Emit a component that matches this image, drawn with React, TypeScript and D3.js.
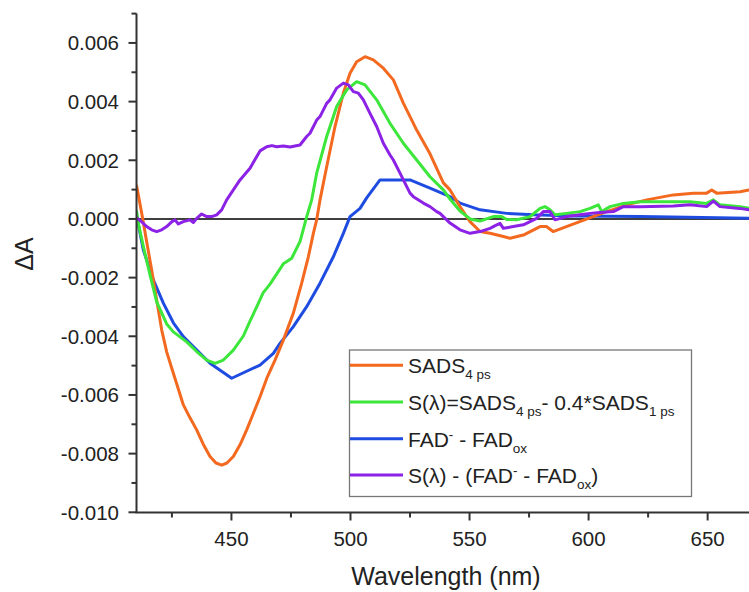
import React from "react";
import * as d3 from "d3";

// ---------- data ----------
const sadsWl = [410.2, 412.3, 414.4, 416.5, 418.6, 420.7, 422.8, 424.9, 427.0, 429.8, 432.6, 435.4, 438.1, 441.0, 443.5, 445.9, 448.1, 450.8, 453.6, 456.4, 459.1, 462.0, 464.9, 468.3, 471.8, 476.0, 479.5, 482.3, 484.4, 485.8, 487.2, 490.0, 493.5, 497.0, 499.8, 502.6, 506.1, 509.6, 513.8, 518.0, 522.2, 527.8, 533.4, 539.0, 541.8, 546.0, 550.2, 554.4, 558.6, 564.2, 567.0, 572.6, 579.6, 582.3, 585.1, 590.7, 596.3, 601.9, 607.6, 616.0, 624.4, 635.6, 644.0, 649.6, 651.7, 653.8, 663.6, 667.4];
const sadsVal = [0.00112, 0.0002, -0.00078, -0.00174, -0.00276, -0.00378, -0.00453, -0.00508, -0.00562, -0.00634, -0.00678, -0.00719, -0.00767, -0.0081, -0.00832, -0.00839, -0.00832, -0.0081, -0.0077, -0.00719, -0.00665, -0.00606, -0.00542, -0.00481, -0.00413, -0.00321, -0.00219, -0.00129, -0.00049, -0.00003, 0.00065, 0.00178, 0.00315, 0.00429, 0.00497, 0.00536, 0.00553, 0.00542, 0.00514, 0.00474, 0.00395, 0.00303, 0.00222, 0.00123, 0.00099, 0.00042, -0.00009, -0.00043, -0.00049, -0.0006, -0.00066, -0.00055, -0.00026, -0.00026, -0.00043, -0.00026, -0.00009, 0.00008, 0.00025, 0.00048, 0.00065, 0.00082, 0.00088, 0.00088, 0.00099, 0.00088, 0.00093, 0.00099];

const sWl = [410.2, 410.9, 413.0, 415.8, 418.6, 422.8, 425.6, 428.4, 431.2, 435.4, 439.6, 443.1, 446.6, 450.8, 455.0, 457.8, 460.6, 463.3, 466.2, 471.8, 475.3, 478.8, 481.6, 483.7, 485.8, 490.0, 494.2, 498.4, 502.6, 506.1, 511.0, 516.6, 522.2, 527.8, 533.4, 539.0, 541.8, 546.0, 550.2, 554.4, 560.0, 563.5, 565.6, 569.8, 575.4, 579.6, 581.7, 583.8, 585.9, 590.8, 596.4, 600.6, 604.1, 605.5, 609.0, 614.6, 621.6, 635.6, 642.6, 649.6, 652.4, 655.2, 663.6, 667.4];
const sVal = [0.00025, -0.00015, -0.00094, -0.00191, -0.00283, -0.00358, -0.00385, -0.00402, -0.00419, -0.00452, -0.00481, -0.00492, -0.00481, -0.00447, -0.00399, -0.00348, -0.003, -0.00252, -0.00222, -0.00153, -0.00134, -0.00077, 0.00007, 0.00065, 0.00156, 0.00281, 0.00383, 0.0044, 0.00468, 0.00457, 0.00406, 0.00326, 0.00258, 0.00201, 0.00144, 0.00099, 0.00068, 0.00027, 0.0, -0.00007, 0.00008, 0.00008, -0.00002, -0.00003, 0.00008, 0.00036, 0.00042, 0.00031, 0.00014, 0.00019, 0.00025, 0.00036, 0.00048, 0.00025, 0.00042, 0.00053, 0.00059, 0.00059, 0.00059, 0.00053, 0.00065, 0.00048, 0.00042, 0.00036];

const fadWl = [410.2, 413.0, 417.2, 421.4, 425.6, 429.8, 434.0, 441.0, 450.1, 462.0, 467.6, 470.4, 476.0, 481.6, 487.2, 492.8, 497.0, 499.8, 504.0, 506.8, 512.4, 525.0, 533.4, 541.8, 546.0, 554.4, 565.6, 576.8, 593.6, 621.6, 667.4];
const fadVal = [0.0001, -0.00106, -0.00208, -0.00287, -0.00354, -0.00401, -0.00435, -0.00492, -0.00543, -0.00498, -0.00458, -0.00424, -0.00367, -0.00299, -0.00219, -0.00129, -0.00049, 0.00008, 0.00036, 0.00072, 0.00133, 0.00133, 0.00105, 0.00076, 0.00054, 0.00031, 0.00019, 0.00014, 0.0001, 0.00008, 0.00002];

const diffWl = [410.2, 412.3, 414.4, 416.5, 418.6, 420.7, 422.8, 424.9, 426.3, 427.7, 429.8, 432.6, 434.0, 435.4, 437.5, 439.6, 441.7, 443.8, 445.9, 448.0, 450.8, 453.6, 457.8, 462.0, 464.8, 467.0, 469.0, 471.8, 474.6, 478.8, 481.6, 483.0, 485.8, 487.2, 490.0, 491.4, 494.2, 497.0, 499.1, 501.2, 503.3, 505.4, 506.8, 508.2, 511.0, 513.8, 516.6, 518.0, 520.8, 522.2, 525.0, 526.4, 530.6, 533.4, 536.2, 537.6, 541.8, 546.0, 550.2, 554.4, 558.6, 561.4, 562.8, 564.2, 568.4, 572.6, 578.2, 581.0, 583.8, 585.9, 590.8, 596.4, 600.6, 604.8, 610.4, 614.6, 621.6, 635.6, 642.6, 649.6, 652.4, 655.2, 663.4, 667.4];
const diffVal = [0.00003, -0.0001, -0.00026, -0.00037, -0.00043, -0.00037, -0.00026, -0.0001, -0.00003, -0.00017, -0.00009, -0.00003, -0.00012, 0.00002, 0.00017, 0.00008, 0.00008, 0.00014, 0.00031, 0.00065, 0.00099, 0.00133, 0.00173, 0.00232, 0.00246, 0.0025, 0.00246, 0.00249, 0.00245, 0.00252, 0.00281, 0.00292, 0.00337, 0.00349, 0.00394, 0.00406, 0.00446, 0.00463, 0.00457, 0.00434, 0.00429, 0.00406, 0.00383, 0.0036, 0.00315, 0.00258, 0.00218, 0.00201, 0.00156, 0.00133, 0.00088, 0.00076, 0.00054, 0.00042, 0.00025, 0.00019, -0.00014, -0.00037, -0.00049, -0.00043, -0.00032, -0.0002, -0.00015, -0.00032, -0.00026, -0.0002, 0.00002, 0.00025, 0.00025, -0.00003, 0.00008, 0.00014, 0.00019, 0.00022, 0.00025, 0.00042, 0.00042, 0.00044, 0.00048, 0.00042, 0.00061, 0.00042, 0.00036, 0.00031];

const yMajorTicks = [-0.01, -0.008, -0.006, -0.004, -0.002, 0, 0.002, 0.004, 0.006];
const yMinorTicks = [-0.009, -0.007, -0.005, -0.003, -0.001, 0.001, 0.003, 0.005, 0.007];
const xMajorTicks = [450, 500, 550, 600, 650];
const xMinorTicks = [425, 475, 525, 575, 625];

const COLORS = { sads: "#f2691f", s: "#3de63a", fad: "#1f4ce0", diff: "#8c22e6" };

export default function App() {
  const W = 749, H = 592;
  const x = d3.scaleLinear().domain([410, 667.5]).range([136.2, 749.3]);
  const y = d3.scaleLinear().domain([-0.01, 0.007]).range([512.3, 13.6]);
  const line = d3.line<[number, number]>().x(d => x(d[0])).y(d => y(d[1]));
  const zip = (a: number[], b: number[]) => a.map((v, i) => [v, b[i]] as [number, number]);

  const series = [
    { key: "fad", d: zip(fadWl, fadVal), c: COLORS.fad },
    { key: "sads", d: zip(sadsWl, sadsVal), c: COLORS.sads },
    { key: "s", d: zip(sWl, sVal), c: COLORS.s },
    { key: "diff", d: zip(diffWl, diffVal), c: COLORS.diff },
  ];

  const axX = 136.5, axY = 512.5;
  const font = "'Liberation Sans', Arial, sans-serif";
  const lx = 408, base = [373.3, 410, 446.7, 483];
  const sub = 13.5;

  return (
    <svg width={W} height={H} style={{ position: "absolute", left: 0, top: 0, background: "#fff" }} fontFamily={font}>
      <rect x={0} y={0} width={W} height={H} fill="#fff" />
      <defs>
        <clipPath id="plot">
          <rect x={axX} y={10} width={W - axX} height={axY - 10} />
        </clipPath>
      </defs>
      {/* zero line */}
      <line x1={axX} x2={W} y1={y(0)} y2={y(0)} stroke="#000" strokeWidth={1.6} />
      <g clipPath="url(#plot)">
        {series.map(s => (
          <path key={s.key} d={line(s.d) || ""} fill="none" stroke={s.c} strokeWidth={3} strokeLinejoin="round" strokeLinecap="round" />
        ))}
      </g>
      {/* y axis */}
      <line x1={axX} x2={axX} y1={y(0.007)} y2={axY} stroke="#333" strokeWidth={2} />
      {yMajorTicks.map(t => (
        <g key={"ym" + t}>
          <line x1={axX - 8} x2={axX} y1={y(t)} y2={y(t)} stroke="#333" strokeWidth={2} />
          <text x={119} y={y(t)} textAnchor="end" dominantBaseline="central" fontSize={20.5} fill="#222">{t.toFixed(3)}</text>
        </g>
      ))}
      {yMinorTicks.map(t => (
        <line key={"yn" + t} x1={axX - 5} x2={axX} y1={y(t)} y2={y(t)} stroke="#333" strokeWidth={2} />
      ))}
      {/* x axis */}
      <line x1={axX - 1} x2={W} y1={axY} y2={axY} stroke="#333" strokeWidth={2} />
      {xMajorTicks.map(t => (
        <g key={"xm" + t}>
          <line x1={x(t)} x2={x(t)} y1={axY} y2={axY + 8} stroke="#333" strokeWidth={2} />
          <text x={x(t)} y={546} textAnchor="middle" fontSize={20.5} fill="#222">{t}</text>
        </g>
      ))}
      {xMinorTicks.map(t => (
        <line key={"xn" + t} x1={x(t)} x2={x(t)} y1={axY} y2={axY + 5} stroke="#333" strokeWidth={2} />
      ))}
      <text x={446} y={585} textAnchor="middle" fontSize={25} fill="#222">Wavelength (nm)</text>
      <text transform="translate(24,254) rotate(-90)" textAnchor="middle" dominantBaseline="central" fontSize={25} fill="#222">ΔA</text>
      {/* legend */}
      <rect x={349.5} y={350} width={342} height={146.5} fill="#fff" stroke="#777" strokeWidth={1.3} />
      {[COLORS.sads, COLORS.s, COLORS.fad, COLORS.diff].map((c, i) => (
        <line key={"lg" + i} x1={350} x2={403} y1={base[i] - 8} y2={base[i] - 8} stroke={c} strokeWidth={3} />
      ))}
      <g fontSize={21} fill="#222">
        <text x={lx} y={base[0]}>SADS<tspan dy={6} fontSize={sub}>4 ps</tspan></text>
        <text x={lx} y={base[1]}>S(λ)=SADS<tspan dy={6} fontSize={sub}>4 ps</tspan><tspan dy={-6}>- 0.4*SADS</tspan><tspan dy={6} fontSize={sub}>1 ps</tspan></text>
        <text x={lx} y={base[2]}>FAD<tspan dy={-8} fontSize={sub}>-</tspan><tspan dy={8}>{" - FAD"}</tspan><tspan dy={6} fontSize={sub}>ox</tspan></text>
        <text x={lx} y={base[3]}>S(λ) - (FAD<tspan dy={-8} fontSize={sub}>-</tspan><tspan dy={8}>{" - FAD"}</tspan><tspan dy={6} fontSize={sub}>ox</tspan><tspan dy={-6}>)</tspan></text>
      </g>
    </svg>
  );
}
